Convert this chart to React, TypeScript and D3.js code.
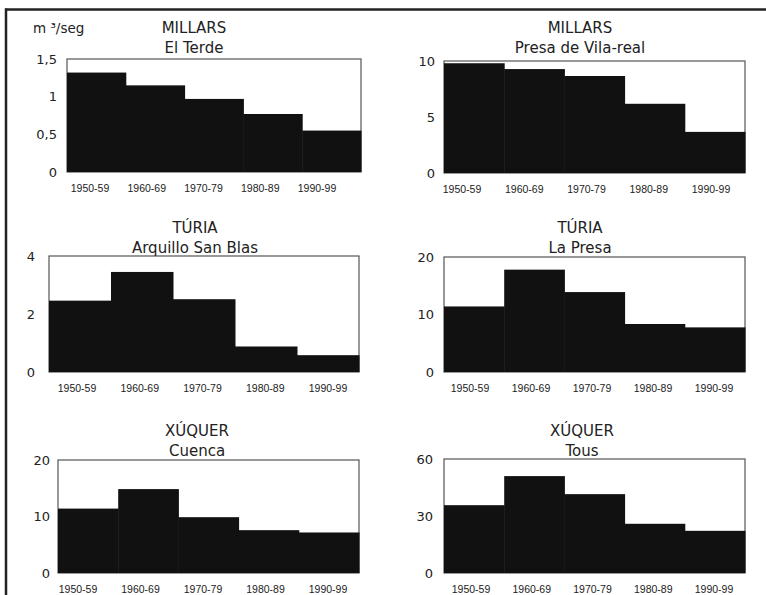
import React from "react";
import * as d3 from "d3";

// decades on the x axis (shared by every panel)
const decades = ["1950-59", "1960-69", "1970-79", "1980-89", "1990-99"];

// mean flow, m3/seg
const elTerde = [1.32, 1.15, 0.97, 0.77, 0.55];
const vilaReal = [9.8, 9.28, 8.66, 6.18, 3.67];
const sanBlas = [2.46, 3.45, 2.51, 0.88, 0.58];
const laPresa = [11.4, 17.8, 13.9, 8.35, 7.76];
const cuenca = [11.4, 14.85, 9.88, 7.58, 7.17];
const tous = [35.7, 51.0, 41.5, 25.9, 22.2];

// y tick values per panel
const ticksElTerde = [0, 0.5, 1, 1.5];
const ticksVilaReal = [0, 5, 10];
const ticksSanBlas = [0, 2, 4];
const ticksLaPresa = [0, 10, 20];
const ticksCuenca = [0, 10, 20];
const ticksTous = [0, 30, 60];

const rivers = ["MILLARS", "MILLARS", "TÚRIA", "TÚRIA", "XÚQUER", "XÚQUER"];
const stations = ["El Terde", "Presa de Vila-real", "Arquillo San Blas", "La Presa", "Cuenca", "Tous"];

const W = 766;
const H = 595;

// panel layout: plot box, tick label edge, x-label centre range, title centre
const layout = [
  { x0: 67, x1: 361, y0: 59, y1: 172, tickX: 57, lab: [90, 317], tx: 194, ty: 33 },
  { x0: 444, x1: 745, y0: 61, y1: 173, tickX: 435, lab: [462, 711], tx: 580, ty: 33 },
  { x0: 49, x1: 359, y0: 256, y1: 372, tickX: 35, lab: [77, 328], tx: 195, ty: 233 },
  { x0: 444, x1: 745, y0: 257, y1: 372, tickX: 434, lab: [470, 714], tx: 580, ty: 233 },
  { x0: 58, x1: 359, y0: 460, y1: 573, tickX: 50, lab: [78, 328], tx: 197, ty: 436 },
  { x0: 444, x1: 745, y0: 459, y1: 573, tickX: 433, lab: [471, 714], tx: 582, ty: 436 },
];

const series = [elTerde, vilaReal, sanBlas, laPresa, cuenca, tous];
const tickSets = [ticksElTerde, ticksVilaReal, ticksSanBlas, ticksLaPresa, ticksCuenca, ticksTous];

const titleFont = "'DejaVu Sans', sans-serif";
const tickFont = "'DejaVu Sans', sans-serif";
const labelFont = "'Liberation Sans', Arial, sans-serif";

const fmt = (v: number) => String(v).replace(".", ",");

const Panel = ({ i }: { i: number }) => {
  const p = layout[i];
  const values = series[i];
  const ticks = tickSets[i];

  const x = d3.scaleBand().domain(decades).range([p.x0, p.x1]).padding(0);
  const y = d3.scaleLinear().domain([0, d3.max(ticks) as number]).range([p.y1, p.y0]);
  const xl = d3.scalePoint().domain(decades).range(p.lab as [number, number]);

  return (
    <g>
      <rect x={p.x0} y={p.y0} width={p.x1 - p.x0} height={p.y1 - p.y0} fill="#fff" stroke="#555" strokeWidth={1.2} />
      {values.map((v, k) => (
        <rect
          key={k}
          x={x(decades[k])}
          y={y(v)}
          width={x.bandwidth() + 0.5}
          height={p.y1 - y(v)}
          fill="#111"
        />
      ))}
      {ticks.map((t) => (
        <text key={t} x={p.tickX} y={y(t)} dy="0.36em" textAnchor="end" fontFamily={tickFont} fontSize={13} fill="#222">
          {fmt(t)}
        </text>
      ))}
      {decades.map((d) => (
        <text key={d} x={xl(d)} y={p.y1 + 20} textAnchor="middle" fontFamily={labelFont} fontSize={10.5} fill="#222">
          {d}
        </text>
      ))}
      <text x={p.tx} y={p.ty} textAnchor="middle" fontFamily={titleFont} fontSize={15} fill="#222">
        {rivers[i]}
      </text>
      <text x={p.tx} y={p.ty + 20} textAnchor="middle" fontFamily={titleFont} fontSize={15} fill="#222">
        {stations[i]}
      </text>
    </g>
  );
};

export default function App() {
  return (
    <svg width={W} height={H} style={{ position: "absolute", left: 0, top: 0, background: "#fff" }}>
      <rect x={0} y={0} width={W} height={H} fill="#fff" />
      {/* outer frame: top and left edges only */}
      <line x1={5} y1={9.5} x2={W} y2={9.5} stroke="#222" strokeWidth={2.5} />
      <line x1={6} y1={8.5} x2={6} y2={H} stroke="#222" strokeWidth={2.5} />
      <text x={33} y={33} fontFamily={titleFont} fontSize={13.5} fill="#222">
        m ³/seg
      </text>
      {layout.map((_, i) => (
        <Panel key={i} i={i} />
      ))}
    </svg>
  );
}
